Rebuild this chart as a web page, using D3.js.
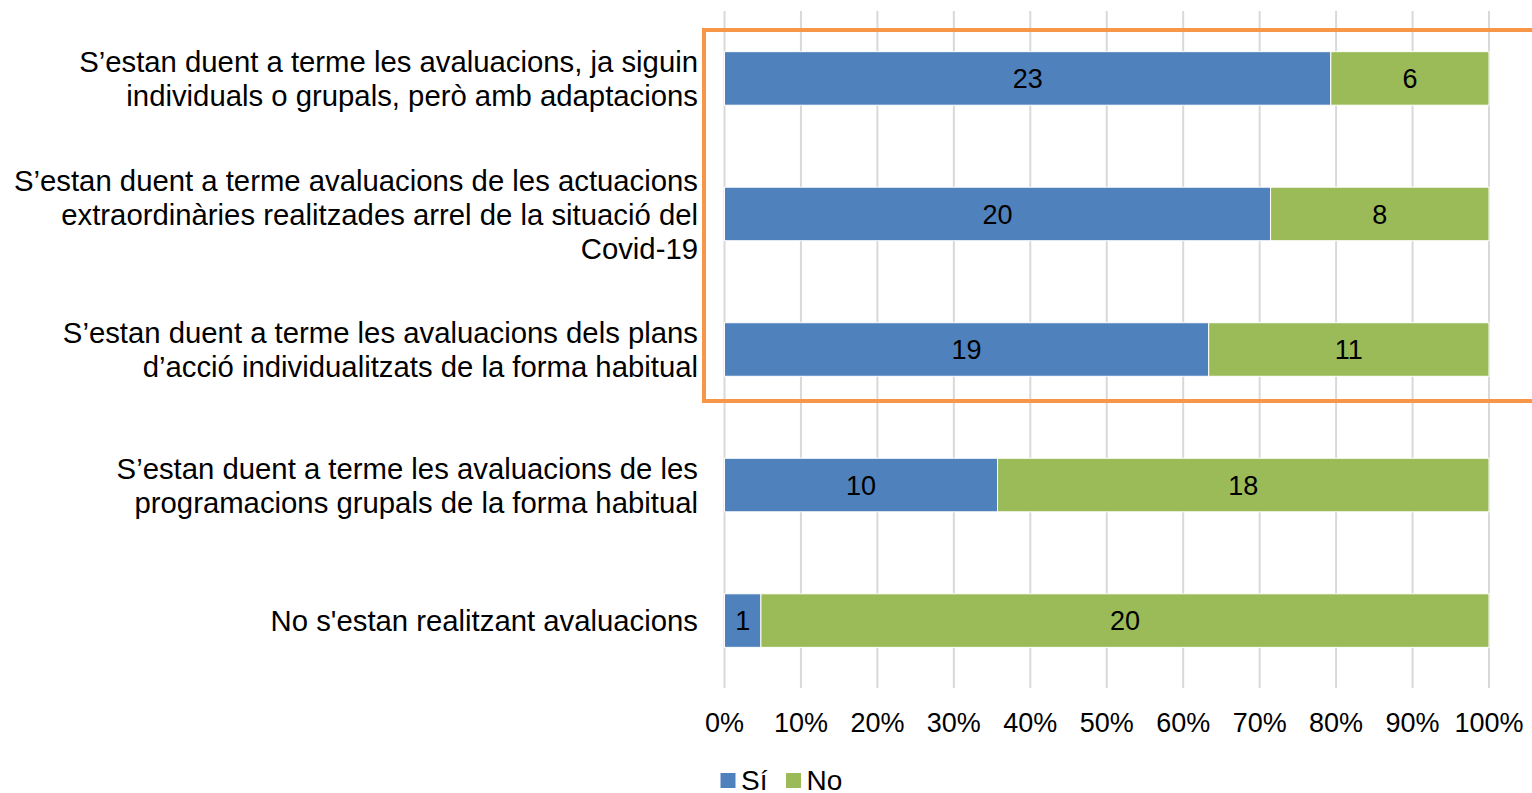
<!DOCTYPE html>
<html>
<head>
<meta charset="utf-8">
<script src="https://cdnjs.cloudflare.com/ajax/libs/d3/7.8.5/d3.min.js"></script>
<style>
    body { margin: 0; background: #fff; }
    svg { font-family: "Liberation Sans", Arial, sans-serif; }
</style>
</head>
<body>
<div id="chart"></div>
<script>
// categories, top to bottom (each entry = label lines)
var categories = [
    ["S\u2019estan duent a terme les avaluacions, ja siguin", "individuals o grupals, però amb adaptacions"],
    ["S\u2019estan duent a terme avaluacions de les actuacions", "extraordinàries realitzades arrel de la situació del", "Covid-19"],
    ["S\u2019estan duent a terme les avaluacions dels plans", "d\u2019acció individualitzats de la forma habitual"],
    ["S\u2019estan duent a terme les avaluacions de les", "programacions grupals de la forma habitual"],
    ["No s'estan realitzant avaluacions"]
];
var siValues = [23, 20, 19, 10, 1];
var noValues = [6, 8, 11, 18, 20];
var seriesNames = ["Sí", "No"];
var tickValues = [0, 0.1, 0.2, 0.3, 0.4, 0.5, 0.6, 0.7, 0.8, 0.9, 1];

(function () {
    var width = 1532, height = 793;
    var colors = ["#4F81BD", "#9BBB59"];

    var svg = d3.select("#chart").append("svg")
        .attr("width", width)
        .attr("height", height);

    var x = d3.scaleLinear().domain([0, 1]).range([724.5, 1489]);
    var y = d3.scaleBand().domain(d3.range(categories.length)).range([11, 688]).paddingInner(0.605).paddingOuter(0.3);

    // gridlines
    svg.append("g").selectAll("line")
        .data(tickValues)
        .enter().append("line")
        .attr("x1", d => x(d)).attr("x2", d => x(d))
        .attr("y1", 11).attr("y2", 688)
        .attr("stroke", "#d9d9d9")
        .attr("stroke-width", 2);

    var rows = categories.map((c, i) => {
        var total = siValues[i] + noValues[i];
        return [
            { i: i, s: 0, v: siValues[i], x0: 0, x1: siValues[i] / total },
            { i: i, s: 1, v: noValues[i], x0: siValues[i] / total, x1: 1 }
        ];
    });
    var segs = [].concat.apply([], rows);

    svg.append("g").selectAll("rect")
        .data(segs)
        .enter().append("rect")
        .attr("x", d => x(d.x0))
        .attr("width", d => x(d.x1) - x(d.x0))
        .attr("y", d => y(d.i))
        .attr("height", y.bandwidth())
        .attr("fill", d => colors[d.s])
        .attr("stroke", "#fff")
        .attr("stroke-width", 1);

    svg.append("g").selectAll("text")
        .data(segs)
        .enter().append("text")
        .attr("x", d => (x(d.x0) + x(d.x1)) / 2)
        .attr("y", d => y(d.i) + y.bandwidth() / 2)
        .attr("dy", "0.36em")
        .attr("text-anchor", "middle")
        .style("font-size", "27px")
        .attr("fill", "#000")
        .text(d => d.v);

    // category labels
    var lh = 34;
    var lab = svg.append("g").selectAll("text")
        .data(categories)
        .enter().append("text")
        .attr("text-anchor", "end")
        .style("font-size", "29.3px")
        .attr("fill", "#000");
    lab.each(function (lines, i) {
        var cy = y(i) + y.bandwidth() / 2;
        var start = cy - (lines.length - 1) * lh / 2;
        d3.select(this).selectAll("tspan")
            .data(lines)
            .enter().append("tspan")
            .attr("x", 698)
            .attr("y", (d, j) => start + j * lh)
            .attr("dy", "0.36em")
            .text(d => d);
    });

    // x axis labels
    svg.append("g").selectAll("text")
        .data(tickValues)
        .enter().append("text")
        .attr("x", d => x(d))
        .attr("y", 722)
        .attr("dy", "0.36em")
        .attr("text-anchor", "middle")
        .style("font-size", "27px")
        .text(d3.format(".0%"));

    // highlight box
    svg.append("rect")
        .attr("x", 704)
        .attr("y", 30)
        .attr("width", 900)
        .attr("height", 371)
        .attr("fill", "none")
        .attr("stroke", "#F79646")
        .attr("stroke-width", 4);

    // legend
    var leg = svg.append("g");
    var lx = [720.5, 786];
    seriesNames.forEach(function (n, i) {
        leg.append("rect")
            .attr("x", lx[i]).attr("y", 773)
            .attr("width", 15).attr("height", 15)
            .attr("fill", colors[i]);
        leg.append("text")
            .attr("x", lx[i] + 20.5).attr("y", 780)
            .attr("dy", "0.36em")
            .style("font-size", "28px")
            .text(n);
    });
})();
</script>
</body>
</html>
